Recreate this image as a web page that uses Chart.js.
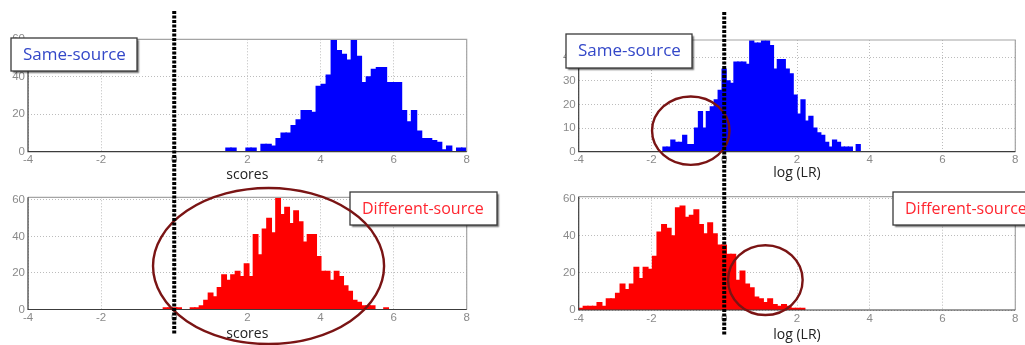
<!DOCTYPE html>
<html>
<head>
<meta charset="utf-8">
<script src="https://cdn.jsdelivr.net/npm/chart.js@4"></script>
<style>
  html, body { margin: 0; padding: 0; background: #fff; }
  #page { position: relative; width: 1025px; height: 345px; overflow: hidden; background: #fff; }
  #page canvas { position: absolute; }
</style>
</head>
<body>
<div id="page">
  <canvas id="sameScores" width="512" height="183" style="left:0px;top:0px"></canvas>
  <canvas id="diffScores" width="512" height="162" style="left:0px;top:183px"></canvas>
  <canvas id="sameLR" width="513" height="183" style="left:512px;top:0px"></canvas>
  <canvas id="diffLR" width="513" height="162" style="left:512px;top:183px"></canvas>
</div>
<script>
// ---- histogram data: counts per bin ----
const sameScoreCounts = [2, 2, 0, 0, 2, 2, 0, 4, 4, 3, 7, 10, 10, 14, 17, 22, 22, 21, 35, 36, 41, 60, 54, 52,
  49, 60, 51, 37, 40, 44, 45, 45, 37, 37, 37, 22, 16, 22, 11, 7, 7, 6, 5, 1, 3, 0, 2, 2];
const diffScoreCounts = [1, 1, 1, 1, 0, 0, 1, 1, 2, 5, 9, 7, 12, 19, 16, 19, 21, 18, 25, 18, 41, 30, 44, 50, 42,
  61, 52, 56, 47, 54, 48, 37, 41, 41, 29, 21, 21, 16, 21, 18, 13, 10, 5, 4, 2, 2, 2, 0, 0, 1];
const sameLRCounts = [2, 2, 5, 4, 4, 7, 3, 3, 10, 17, 10, 17, 19, 22, 26, 35, 30, 29, 38, 38, 38, 37, 47, 46, 46,
  47, 47, 45, 35, 39, 39, 35, 33, 24, 16, 22, 13, 15, 10, 8, 7, 4, 2, 5, 4, 2, 2, 2, 0, 3];
const diffLRCounts = [1, 2, 2, 2, 4, 2, 6, 6, 9, 14, 11, 14, 23, 17, 23, 22, 29, 42, 46, 44, 40, 55, 56, 50, 51,
  54, 46, 41, 47, 41, 35, 35, 30, 30, 16, 21, 14, 12, 7, 6, 4, 6, 3, 2, 3, 2, 1, 1, 1];

// bin layout: left edge of the first bin and the bin width
const sameScoreBins = { start: 1.415, width: 0.1372 };
const diffScoreBins = { start: -0.298, width: 0.1231 };
const sameLRBins = { start: -1.683, width: 0.1084 };
const diffLRBins = { start: -4.0, width: 0.1268 };

// tick labels
const xTicks = [-4, -2, 0, 2, 4, 6, 8];
const yTicksScores = [0, 20, 40, 60];
const yTicksSameLR = [0, 10, 20, 30, 40];
const yTicksDiffLR = [0, 20, 40, 60];

const BLUE = '#0000ff';
const RED = '#ff0000';
const GRID = '#bcbcbc';
const TICK_FONT = { family: '"Liberation Sans", Arial, sans-serif', size: 11.5 };
const TITLE_FONT = { family: '"Open Sans", "DejaVu Sans", sans-serif', size: 14 };

// frame, threshold line, circled regions and the legend box of each panel
const panelDecor = {
  id: 'panelDecor',
  afterDatasetsDraw(chart) {
    const { ctx, chartArea: a } = chart;
    ctx.save();
    ctx.lineWidth = 1.2;
    ctx.strokeStyle = '#a4a4a4';
    ctx.beginPath();
    ctx.moveTo(a.left, a.top); ctx.lineTo(a.right, a.top); ctx.lineTo(a.right, a.bottom);
    ctx.stroke();
    ctx.strokeStyle = '#3c3c3c';
    ctx.beginPath();
    ctx.moveTo(a.left, a.top); ctx.lineTo(a.left, a.bottom); ctx.lineTo(a.right, a.bottom);
    ctx.stroke();
    ctx.restore();
  },
  afterDraw(chart, args, opts) {
    const { ctx } = chart;
    const xs = chart.scales.x, ys = chart.scales.y;

    // legend box
    const b = opts.box;
    if (b) {
      ctx.save();
      ctx.shadowColor = 'rgba(0,0,0,0.55)';
      ctx.shadowOffsetX = 2; ctx.shadowOffsetY = 2; ctx.shadowBlur = 1.5;
      ctx.fillStyle = '#fff';
      ctx.fillRect(b.x, b.y, b.w, b.h);
      ctx.restore();
      ctx.save();
      ctx.strokeStyle = '#3a3a3a'; ctx.lineWidth = 1.3;
      ctx.strokeRect(b.x, b.y, b.w, b.h);
      ctx.fillStyle = b.color;
      ctx.font = b.size + 'px "Open Sans", "DejaVu Sans", sans-serif';
      ctx.textBaseline = 'middle';
      ctx.textAlign = 'left';
      ctx.fillText(b.text, b.x + 12, b.y + b.h / 2 + 0.5);
      ctx.restore();
    }

    // circled region, given in data units
    const e = opts.ellipse;
    if (e) {
      const cx = xs.getPixelForValue(e.x), cy = ys.getPixelForValue(e.y);
      const rx = Math.abs(xs.getPixelForValue(e.x + e.rx) - cx);
      const ry = Math.abs(ys.getPixelForValue(e.y + e.ry) - cy);
      ctx.save();
      ctx.strokeStyle = '#7a1414';
      ctx.lineWidth = 2.4;
      ctx.beginPath();
      ctx.ellipse(cx, cy, rx, ry, 0, 0, Math.PI * 2);
      ctx.stroke();
      ctx.restore();
    }

    // dotted threshold line at x = 0
    const z = opts.zeroLine;
    if (z) {
      const zx = xs.getPixelForValue(0);
      ctx.save();
      ctx.strokeStyle = '#000';
      ctx.lineWidth = 4;
      ctx.setLineDash([3, 1.5]);
      ctx.lineDashOffset = z.dashOffset || 0;
      ctx.beginPath();
      ctx.moveTo(zx, z.top); ctx.lineTo(zx, z.bottom);
      ctx.stroke();
      ctx.restore();
    }
  }
};

function makePanel(id, cfg) {
  const points = cfg.counts.map((c, i) => ({ x: cfg.bins.start + (i + 0.5) * cfg.bins.width, y: c }));
  return new Chart(document.getElementById(id), {
    type: 'bar',
    data: {
      datasets: [{
        data: points,
        backgroundColor: cfg.color,
        borderWidth: 0,
        // slight overlap so neighbouring bins render as one solid histogram
        barPercentage: 1.08,
        categoryPercentage: 1,
        inflateAmount: 0.5
      }]
    },
    options: {
      responsive: false,
      animation: false,
      devicePixelRatio: 1,
      layout: { padding: cfg.padding },
      plugins: {
        legend: { display: false },
        tooltip: { enabled: false },
        panelDecor: cfg.decor
      },
      scales: {
        x: {
          type: 'linear', min: -4, max: 8, offset: false,
          afterBuildTicks: s => { s.ticks = xTicks.map(v => ({ value: v })); },
          afterFit: s => { s.height = cfg.xHeight; },
          grid: { color: GRID, lineWidth: 1, drawTicks: false, offset: false },
          border: { display: false, dash: [1, 2] },
          ticks: { font: TICK_FONT, color: '#8a8a8a', padding: 1.5, autoSkip: false, maxRotation: 0 },
          title: { display: true, text: cfg.xTitle, font: TITLE_FONT, color: '#222',
                   padding: { top: 0, bottom: cfg.titlePad } }
        },
        y: {
          type: 'linear', min: 0, max: cfg.yMax,
          afterBuildTicks: s => { s.ticks = cfg.yTicks.map(v => ({ value: v })); },
          afterFit: s => { s.width = cfg.yWidth; },
          grid: { color: GRID, lineWidth: 1, drawTicks: false },
          border: { display: false, dash: [1, 2] },
          ticks: { font: TICK_FONT, color: '#8a8a8a', padding: 3, autoSkip: false }
        }
      }
    },
    plugins: [panelDecor]
  });
}

makePanel('sameScores', {
  counts: sameScoreCounts, bins: sameScoreBins, color: BLUE,
  yMax: 60, yTicks: yTicksScores, xTitle: 'scores',
  padding: { left: 0, right: 45.3, top: 39.3, bottom: 0 }, yWidth: 28, xHeight: 31.3, titlePad: 0,
  decor: {
    box: { x: 11, y: 38, w: 126, h: 33, text: 'Same-source', color: '#3347c8', size: 17 },
    zeroLine: { top: 11, bottom: 183, dashOffset: 0 }
  }
});

makePanel('diffScores', {
  counts: diffScoreCounts, bins: diffScoreBins, color: RED,
  yMax: 61.4, yTicks: yTicksScores, xTitle: 'scores',
  padding: { left: 0, right: 45.3, top: 14.3, bottom: 0 }, yWidth: 28, xHeight: 35.5, titlePad: 2.6,
  decor: {
    box: { x: 350, y: 9, w: 147, h: 33, text: 'Different-source', color: '#ff2630', size: 16 },
    ellipse: { x: 2.58, y: 23.8, rx: 3.16, ry: 42.7 },
    zeroLine: { top: 0, bottom: 152, dashOffset: 1 }
  }
});

makePanel('sameLR', {
  counts: sameLRCounts, bins: sameLRBins, color: BLUE,
  yMax: 47.3, yTicks: yTicksSameLR, xTitle: 'log (LR)',
  padding: { left: 0, right: 9.7, top: 40, bottom: 0 }, yWidth: 66.7, xHeight: 31.3, titlePad: 1.6,
  decor: {
    box: { x: 54, y: 34, w: 126, h: 34, text: 'Same-source', color: '#3347c8', size: 17 },
    ellipse: { x: -0.92, y: 8.9, rx: 1.064, ry: 14.5 },
    zeroLine: { top: 12, bottom: 183, dashOffset: 0 }
  }
});

makePanel('diffLR', {
  counts: diffLRCounts, bins: diffLRBins, color: RED,
  yMax: 61, yTicks: yTicksDiffLR, xTitle: 'log (LR)',
  padding: { left: 0, right: 9.7, top: 13.7, bottom: 0 }, yWidth: 66.7, xHeight: 35, titlePad: 1.6,
  decor: {
    box: { x: 381, y: 9, w: 150, h: 33, text: 'Different-source', color: '#ff2630', size: 16 },
    ellipse: { x: 1.13, y: 16.1, rx: 1.025, ry: 18.8 },
    zeroLine: { top: 0, bottom: 152, dashOffset: 0 }
  }
});
</script>
</body>
</html>
